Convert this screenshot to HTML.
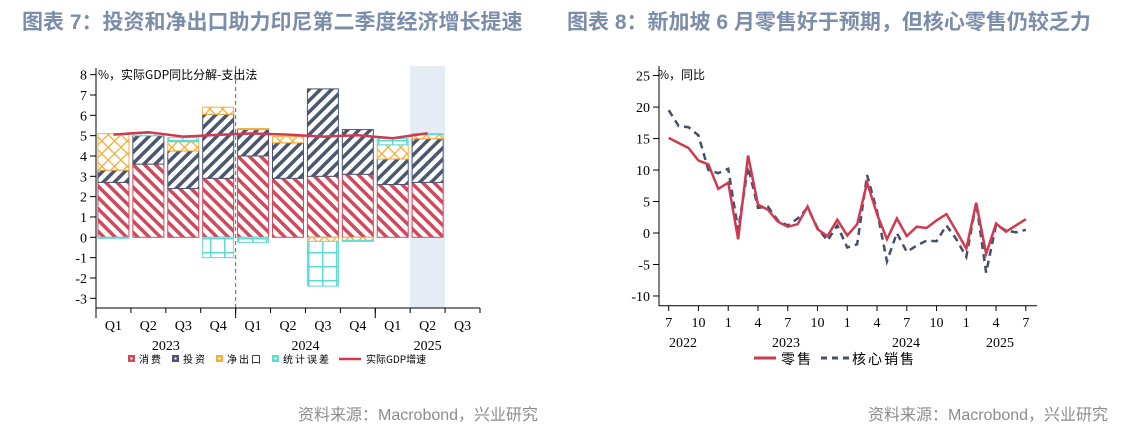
<!DOCTYPE html>
<html><head><meta charset="utf-8">
<style>
body{margin:0;width:1135px;height:426px;background:#fff;overflow:hidden;font-family:"Liberation Serif","Noto Serif CJK SC",serif;}
.t{position:absolute;top:6px;font-family:"Liberation Sans","Noto Sans CJK SC",sans-serif;font-weight:bold;font-size:21px;color:#7b8da8;white-space:nowrap;}
.s{position:absolute;top:401px;font-family:"Liberation Sans","Noto Sans CJK SC",sans-serif;font-size:16px;color:#8c8c8c;white-space:nowrap;}
svg{position:absolute;left:0;top:0}
</style></head><body>
<div class="t" style="left:22px">图表 7：投资和净出口助力印尼第二季度经济增长提速</div>
<div class="t" style="left:567px">图表 8：新加坡 6 月零售好于预期，但核心零售仍较乏力</div>
<div class="s" style="left:298px">资料来源：Macrobond，兴业研究</div>
<div class="s" style="left:868px">资料来源：Macrobond，兴业研究</div>
<svg id="svg" width="1135" height="426">
<defs>
<pattern id="pRed" width="8" height="8" patternUnits="userSpaceOnUse" patternTransform="rotate(-45)"><rect width="8" height="8" fill="#fff"/><rect width="3.5" height="8" fill="#d04a5c"/></pattern>
<pattern id="pNavy" width="8" height="8" patternUnits="userSpaceOnUse" patternTransform="rotate(45)"><rect width="8" height="8" fill="#fff"/><rect width="3.5" height="8" fill="#4b5670"/></pattern>
<pattern id="pOr" width="9" height="9" patternUnits="userSpaceOnUse" patternTransform="rotate(45)"><rect width="9" height="9" fill="#fff"/><rect width="1.3" height="9" fill="#f5ac3a"/><rect width="9" height="1.3" fill="#f5ac3a"/></pattern>
<pattern id="pTeal" width="14" height="14" patternUnits="userSpaceOnUse"><rect width="14" height="14" fill="#fff"/><rect width="1.5" height="14" fill="#5fdad2"/><rect width="14" height="1.5" fill="#5fdad2"/></pattern>
</defs>
<g id="L"></g><g id="R"></g>
</svg>
<script>
const cats=["Q1","Q2","Q3","Q4","Q1","Q2","Q3","Q4","Q1","Q2","Q3"];
const years=["2023","2024","2025"];
const consumption=[2.7,3.6,2.4,2.9,4.0,2.9,3.0,3.1,2.6,2.7];
const investment=[0.6,1.4,1.85,3.15,1.3,1.75,4.3,2.2,1.25,2.15];
const netExports=[1.8,0,0.45,0.35,0.05,0.3,-0.2,-0.15,0.7,0.2];
const statDisc=[-0.05,0.1,0.2,-1.0,-0.25,0,-2.2,-0.05,0.3,0.05];
const gdp=[5.05,5.17,4.95,5.04,5.11,5.05,4.95,5.02,4.87,5.12];
const yTicksL=[8,7,6,5,4,3,2,1,0,-1,-2,-3];

const months=["7","10","1","4","7","10","1","4","7","10","1","4","7"];
const retail=[15.1,14.3,13.5,11.5,10.9,7.0,8.0,-1.0,12.3,4.5,3.7,1.8,1.0,1.4,4.2,0.6,-0.5,2.1,-0.4,1.4,8.0,3.0,-1.0,2.3,-0.5,1.0,0.8,2.0,3.0,0.3,-2.5,4.8,-3.3,1.5,0.2,1.2,2.2];
const core=[19.5,17.0,16.8,15.5,10.0,9.5,10.2,0.5,10.5,4.0,4.2,2.0,1.2,2.3,4.0,0.8,-1.2,1.2,-2.3,-1.8,9.2,3.5,-4.5,0.0,-3.0,-2.0,-1.2,-1.3,1.2,-1.0,-3.8,4.8,-6.3,1.3,0.4,0.1,0.5];
const yTicksR=[25,20,15,10,5,0,-5,-10];

const NS="http://www.w3.org/2000/svg";
function mk(p,tag,a,txt){const e=document.createElementNS(NS,tag);for(const k in a)e.setAttribute(k,a[k]);if(txt!==undefined)e.textContent=txt;p.appendChild(e);return e;}

// LEFT
const L=document.getElementById('L');
const x0=96,x1=480,slot=(x1-x0)/11;
const yL=v=>237.3-v*20.33;
const cx=i=>x0+slot*(i+0.5);
let e=mk(L,'rect',{x:x0+slot*9,y:66,width:slot,height:308-66,fill:'#e6ecf5'});

e=mk(L,'line',{x1:x0+slot*4,y1:66,x2:x0+slot*4,y2:308,stroke:'#666','stroke-dasharray':'4,3','stroke-width':1});

const series=[[consumption,'pRed','#d04a5c','consumption'],[investment,'pNavy','#4b5670','investment'],[netExports,'pOr','#f5ac3a','net-exports'],[statDisc,'pTeal','#5fdad2','stat-discrepancy']];
for(let i=0;i<consumption.length;i++){
  let pos=0,neg=0;
  for(const [arr,pat,col,nm] of series){
    const v=arr[i];if(v===0)continue;
    let a,b;
    if(v>0){a=pos;b=pos+v;pos=b;}else{a=neg;b=neg+v;neg=b;}
    const yt=yL(Math.max(a,b)),yb=yL(Math.min(a,b));
    e=mk(L,'rect',{x:cx(i)-15.5,y:yt,width:31,height:Math.max(yb-yt,0.8),fill:'url(#'+pat+')',stroke:col,'stroke-width':1});
    
  }
}
let d='';gdp.forEach((v,i)=>{d+=(i?'L':'M')+cx(i)+','+yL(v);});
e=mk(L,'path',{d:d,fill:'none',stroke:'#d03a50','stroke-width':2.5});

mk(L,'line',{x1:x0,y1:68,x2:x0,y2:312,stroke:'#000'});
mk(L,'line',{x1:x0,y1:308,x2:x1,y2:308,stroke:'#000'});
yTicksL.forEach(t=>{const y=yL(t);mk(L,'line',{x1:x0-6,y1:y,x2:x0,y2:y,stroke:'#000'});
 e=mk(L,'text',{x:x0-9,y:y+5,'text-anchor':'end','font-size':14},t);});
for(let i=0;i<=11;i++){mk(L,'line',{x1:x0+slot*i,y1:308,x2:x0+slot*i,y2:313,stroke:'#000'});}
[0,4,8].forEach(i=>mk(L,'line',{x1:x0+slot*i,y1:308,x2:x0+slot*i,y2:318,stroke:'#000'}));
cats.forEach((c,i)=>{e=mk(L,'text',{x:cx(i),y:330,'text-anchor':'middle','font-size':14},c);});
[[x0+slot*2,years[0]],[x0+slot*6,years[1]],[cx(9),years[2]]].forEach(([x,t])=>{e=mk(L,'text',{x:x,y:350,'text-anchor':'middle','font-size':14},t);});
e=mk(L,'text',{x:98,y:79,'font-size':12,'font-family':'"Noto Sans CJK SC",sans-serif'},'%，实际GDP同比分解-支出法');
const leg=[[128,'#d04a5c','消费'],[172,'#4b5670','投资'],[216,'#f5ac3a','净出口'],[272,'#5fdad2','统计误差']];
leg.forEach(([x,c,t])=>{const g=mk(L,'g',{});
 mk(g,'rect',{x:x,y:355,width:7,height:7,fill:c});mk(g,'rect',{x:x+2.5,y:357.5,width:2,height:2,fill:'#fff'});
 mk(g,'text',{x:x+11,y:363,'font-size':10,'font-family':'"Noto Sans CJK SC",sans-serif','letter-spacing':2},t);});
let g=mk(L,'g',{});
mk(g,'line',{x1:339,y1:359,x2:361,y2:359,stroke:'#d03a50','stroke-width':2.5});
mk(g,'text',{x:366,y:363,'font-size':10,'font-family':'"Noto Sans CJK SC",sans-serif'},'实际GDP增速');

// RIGHT
const R=document.getElementById('R');
const rx0=659,rx1=1037;
const xR=i=>668.7+i*9.92;
const yR=v=>233-v*6.297;
mk(R,'line',{x1:rx0,y1:66,x2:rx0,y2:306,stroke:'#000'});
mk(R,'line',{x1:rx0,y1:305.7,x2:rx1,y2:305.7,stroke:'#000'});
yTicksR.forEach(t=>{const y=yR(t);mk(R,'line',{x1:rx0-6,y1:y,x2:rx0,y2:y,stroke:'#000'});
 e=mk(R,'text',{x:rx0-9,y:y+5,'text-anchor':'end','font-size':14},t);});
months.forEach((m,k)=>{const x=xR(k*3);mk(R,'line',{x1:x,y1:305.7,x2:x,y2:311,stroke:'#000'});
 e=mk(R,'text',{x:x,y:327,'text-anchor':'middle','font-size':14},m);});
[[683,'2022'],[786,'2023'],[906,'2024'],[1000,'2025']].forEach(([x,t])=>{e=mk(R,'text',{x:x,y:347,'text-anchor':'middle','font-size':14},t);});
e=mk(R,'text',{x:658,y:79,'font-size':12,'font-family':'"Noto Sans CJK SC",sans-serif'},'%，同比');
d='';core.forEach((v,i)=>{d+=(i?'L':'M')+xR(i)+','+yR(v);});
e=mk(R,'path',{d:d,fill:'none',stroke:'#44506a','stroke-width':2.5,'stroke-dasharray':'7,5'});

d='';retail.forEach((v,i)=>{d+=(i?'L':'M')+xR(i)+','+yR(v);});
e=mk(R,'path',{d:d,fill:'none',stroke:'#d03a50','stroke-width':2.5});

g=mk(R,'g',{});
mk(g,'line',{x1:754,y1:358,x2:776,y2:358,stroke:'#d03a50','stroke-width':3});
mk(g,'text',{x:781,y:364,'font-size':14,'font-family':'"Noto Sans CJK SC",sans-serif','letter-spacing':2},'零售');
g=mk(R,'g',{});
mk(g,'line',{x1:821,y1:358,x2:849,y2:358,stroke:'#44506a','stroke-width':3,'stroke-dasharray':'6,5'});
mk(g,'text',{x:852,y:364,'font-size':14,'font-family':'"Noto Sans CJK SC",sans-serif','letter-spacing':2},'核心销售');
</script>
</body></html>
